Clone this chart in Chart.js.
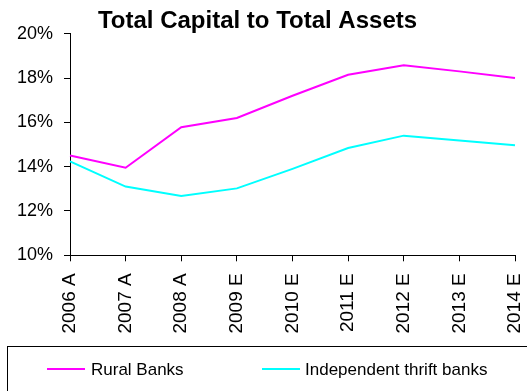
<!DOCTYPE html>
<html>
<head>
<meta charset="utf-8">
<script src="https://cdn.jsdelivr.net/npm/chart.js@4/dist/chart.umd.min.js"></script>
<style>
  html, body { margin: 0; padding: 0; background: #ffffff; }
  #wrap { width: 527px; height: 391px; }
</style>
</head>
<body>
<div id="wrap"><canvas id="chart" width="527" height="391"></canvas></div>
<script>
// Years (A = actual, E = estimate)
const categories = ['2006 A', '2007 A', '2008 A', '2009 E', '2010 E', '2011 E', '2012 E', '2013 E', '2014 E'];

// Total capital / total assets, in percent
const ruralBanks = [14.5, 13.95, 15.78, 16.2, 17.2, 18.15, 18.58, 18.3, 18.0];
const independentThrift = [14.24, 13.1, 12.68, 13.02, 13.9, 14.84, 15.4, 15.18, 14.97];

// Y axis range and tick step (percent)
const yMin = 10;
const yMax = 20;
const yStep = 2;

const seriesNames = ['Rural Banks', 'Independent thrift banks'];

const FONT = '"Liberation Sans", Arial, Helvetica, sans-serif';

// Framed legend drawn below the axes, one line sample + label per dataset
const framedLegend = {
  id: 'framedLegend',
  afterDraw(chart) {
    const ctx = chart.ctx;
    ctx.save();
    ctx.strokeStyle = '#000000';
    ctx.lineWidth = 1;
    ctx.strokeRect(7.5, 346.5, 600, 100);
    const slots = [{ x: 47, tx: 91 }, { x: 262, tx: 305 }];
    const y = 369;
    chart.data.datasets.forEach((ds, i) => {
      const s = slots[i];
      ctx.strokeStyle = ds.borderColor;
      ctx.lineWidth = 2;
      ctx.beginPath();
      ctx.moveTo(s.x, y);
      ctx.lineTo(s.x + 38, y);
      ctx.stroke();
      ctx.fillStyle = '#000000';
      ctx.font = '17px ' + FONT;
      ctx.textAlign = 'left';
      ctx.textBaseline = 'middle';
      ctx.fillText(ds.label, s.tx, y + 1);
    });
    ctx.restore();
  }
};

new Chart(document.getElementById('chart'), {
  type: 'line',
  data: {
    labels: categories,
    datasets: [
      {
        label: seriesNames[0],
        data: ruralBanks,
        borderColor: '#FF00FF',
        backgroundColor: '#FF00FF',
        borderWidth: 2,
        pointRadius: 0,
        tension: 0,
        fill: false
      },
      {
        label: seriesNames[1],
        data: independentThrift,
        borderColor: '#00FFFF',
        backgroundColor: '#00FFFF',
        borderWidth: 2,
        pointRadius: 0,
        tension: 0,
        fill: false
      }
    ]
  },
  options: {
    responsive: false,
    animation: false,
    layout: { padding: { left: 0, right: 12, top: 0, bottom: 57.7 } },
    plugins: {
      legend: { display: false },
      tooltip: { enabled: false },
      title: {
        display: true,
        text: 'Total Capital to Total Assets',
        color: '#000000',
        font: { family: FONT, size: 24, weight: 'bold', lineHeight: 1 },
        padding: { top: 9.7, bottom: 0 }
      }
    },
    scales: {
      x: {
        offset: false,
        grid: { drawOnChartArea: false, drawTicks: true, tickLength: 6, color: '#000000' },
        border: { display: true, color: '#000000', width: 1 },
        ticks: {
          color: '#000000',
          font: { family: FONT, size: 19 },
          maxRotation: 90,
          minRotation: 90,
          autoSkip: false,
          padding: 12
        },
        afterFit(scale) {
          scale.height = 78;
          scale.paddingLeft = 0;
          scale.paddingRight = 0;
        }
      },
      y: {
        min: yMin,
        max: yMax,
        grid: { drawOnChartArea: false, drawTicks: true, tickLength: 6, color: '#000000' },
        border: { display: true, color: '#000000', width: 1 },
        ticks: {
          stepSize: yStep,
          color: '#000000',
          font: { family: FONT, size: 18 },
          padding: 11,
          callback: (v) => v + '%'
        },
        afterFit(scale) { scale.width = 70; }
      }
    }
  },
  plugins: [framedLegend]
});
</script>
</body>
</html>
